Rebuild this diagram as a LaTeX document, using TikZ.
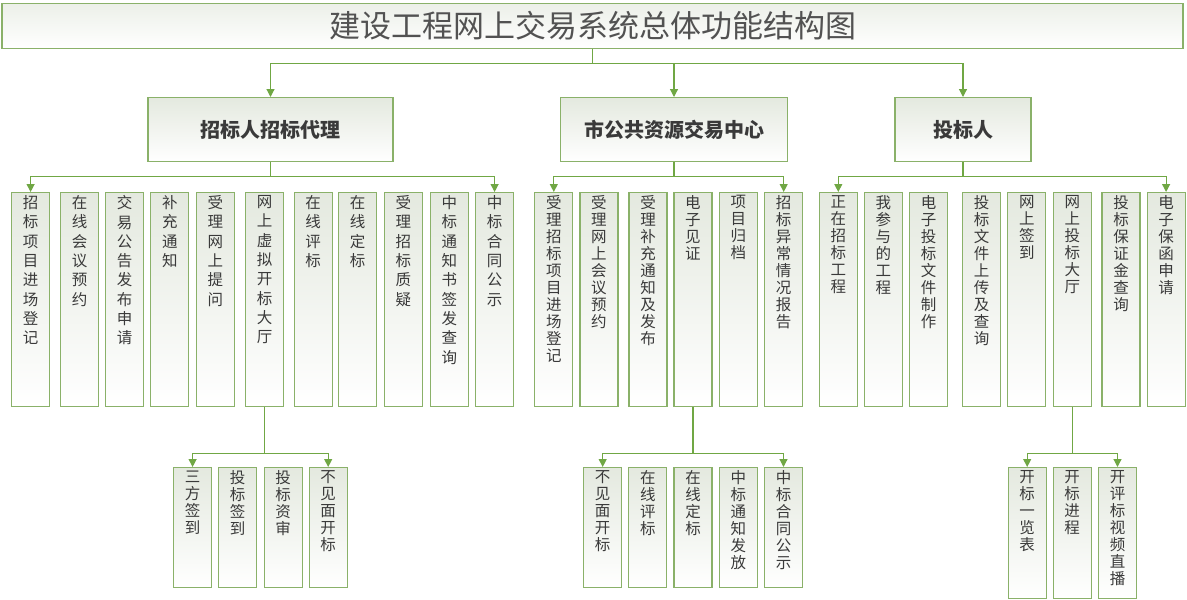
\documentclass[tikz,border=0pt]{standalone}
\usepackage{fontspec}
\setmainfont{Noto Sans CJK SC}
\usetikzlibrary{arrows.meta}

\definecolor{linegreen}{HTML}{70A744}
\definecolor{boxgreen}{HTML}{8AB169}
\definecolor{boxshade}{HTML}{E4E9DF}
\definecolor{textgray}{HTML}{3A3A3A}

% one character per line, top aligned in a fixed box
\def\vchars#1{\ifx#1\relax\else#1\par\expandafter\vchars\fi}
\newcommand\vtext[2]{\parbox[t][#1pt][t]{38pt}{\centering\vspace*{3pt}\expandafter\vchars#2\relax}}

\begin{document}
\begin{tikzpicture}[x=1pt, y=-1pt,
        box/.style={draw=boxgreen, line width=1.2pt, top color=boxshade, bottom color=white, inner sep=0pt, anchor=north},
        head/.style={box, minimum height=64pt, font=\fontsize{20}{24}\selectfont\bfseries, text=textgray},
        item/.style={box, font=\fontsize{15.5}{19.3}\selectfont, text=textgray},
        subitem/.style={item, font=\fontsize{15.5}{17}\selectfont},
        link/.style={draw=linegreen, line width=1.2pt, -{Triangle[width=8pt,length=8pt]}}]
    \useasboundingbox (0,0) rectangle (1187,600);

    % Title
    \node[box, top color=boxshade!70, minimum width=1181pt, minimum height=45pt,
          font=\fontsize{31}{36}\selectfont, text=black!68] (title) at (592.5,3) {建设工程网上交易系统总体功能结构图};

    % Level 1
    \node[head, minimum width=245pt] (zb) at (270.5,97) {招标人招标代理};
    \node[head, minimum width=227pt] (sc) at (674,97) {市公共资源交易中心};
    \node[head, minimum width=136pt] (tb) at (963,97) {投标人};

    \draw[link] (title.south) -- ++(0,14) -| (zb.north);
    \draw[link] (title.south) -- ++(0,14) -| (sc.north);
    \draw[link] (title.south) -- ++(0,14) -| (tb.north);

    % Level 2
    \foreach \x/\t [count=\i] in {30.6/招标项目进场登记, 79.6/在线会议预约, 124.5/交易公告发布申请,
        169.8/补充通知, 215.3/受理网上提问, 264.5/网上虚拟开标大厅, 313.2/在线评标, 357.5/在线定标,
        403.3/受理招标质疑, 449.3/中标通知书签发查询, 494.6/中标合同公示}
        \node[item] (z\i) at (\x,192) {\vtext{214}{\t}};
    \foreach \x/\t [count=\i] in {553.8/受理招标项目进场登记, 598.9/受理网上会议预约, 648/受理补充通知及发布,
        692.9/电子见证, 738.4/项目归档, 783.7/招标异常情况报告}
        \node[subitem] (s\i) at (\x,192) {\vtext{214}{\t}};
    \foreach \x/\t [count=\i] in {838.3/正在招标工程, 883.4/我参与的工程, 928.7/电子投标文件制作,
        981.7/投标文件上传及查询, 1026.8/网上签到, 1072.3/网上投标大厅, 1121/投标保证金查询, 1166.1/电子保函申请}
        \node[subitem] (t\i) at (\x,192) {\vtext{214}{\t}};

    \draw[link] (zb.south) -- ++(0,14) -| (z1.north);
    \draw[link] (zb.south) -- ++(0,14) -| (z11.north);
    \draw[link] (sc.south) -- ++(0,14) -| (s1.north);
    \draw[link] (sc.south) -- ++(0,14) -| (s6.north);
    \draw[link] (tb.south) -- ++(0,14) -| (t1.north);
    \draw[link] (tb.south) -- ++(0,14) -| (t8.north);

    % Level 3
    \foreach \x/\t [count=\i] in {192.6/三方签到, 237.6/投标签到, 283.2/投标资审, 328.2/不见面开标}
        \node[subitem] (a\i) at (\x,467) {\vtext{120}{\t}};
    \foreach \x/\t [count=\i] in {602.7/不见面开标, 647.8/在线评标, 693/在线定标, 738.3/中标通知发放, 783.5/中标合同公示}
        \node[subitem] (b\i) at (\x,467) {\vtext{120}{\t}};
    \foreach \x/\t [count=\i] in {1027.2/开标一览表, 1072.2/开标进程, 1117.5/开评标视频直播}
        \node[subitem] (c\i) at (\x,467) {\vtext{131}{\t}};

    \draw[link] (z6.south) -- ++(0,46) -| (a1.north);
    \draw[link] (z6.south) -- ++(0,46) -| (a4.north);
    \draw[link] (s4.south) -- ++(0,46) -| (b1.north);
    \draw[link] (s4.south) -- ++(0,46) -| (b5.north);
    \draw[link] (t6.south) -- ++(0,46) -| (c1.north);
    \draw[link] (t6.south) -- ++(0,46) -| (c3.north);
\end{tikzpicture}
\end{document}
